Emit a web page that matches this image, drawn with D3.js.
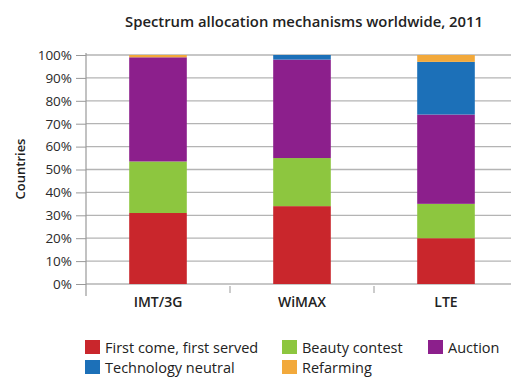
<!DOCTYPE html>
<html><head><meta charset="utf-8">
<script src="https://cdn.jsdelivr.net/npm/d3@7"></script>
<style>
html,body{margin:0;padding:0;background:#fff;}
svg{display:block;font-family:"Open Sans",sans-serif;}
</style></head>
<body>
<svg id="chart" width="511" height="378"></svg>
<script>
// Technologies on the x axis
const categories = ["IMT/3G", "WiMAX", "LTE"];
// Allocation mechanisms (stack order, bottom to top)
const mechanisms = ["First come, first served", "Beauty contest", "Auction", "Technology neutral", "Refarming"];
// Share of countries (%) per mechanism, one value per technology
const firstCome   = [31, 34, 20];
const beauty      = [22.5, 21, 15];
const auction     = [45.5, 43, 39];
const techNeutral = [0, 2, 23];
const refarming   = [1, 0, 3];
const yTicks = [0,10,20,30,40,50,60,70,80,90,100];
const colors = ["#c9262c", "#8dc63f", "#8c1f8c", "#1c70b8", "#f2a93b"];

const seriesValues = [firstCome, beauty, auction, techNeutral, refarming];
const rows = categories.map((c, i) => {
  const r = {cat: c};
  mechanisms.forEach((m, k) => r[m] = seriesValues[k][i]);
  return r;
});

const svg = d3.select("#chart");
const plotLeft = 86, plotTop = 55, plotBottom = 284, plotRight = 518;

const x = d3.scaleBand().domain(categories).range([plotLeft, plotRight]).paddingInner(0.6).paddingOuter(0.3);
const y = d3.scaleLinear().domain([0, 100]).range([plotBottom, plotTop]);

// Title
svg.append("text").attr("x", 304).attr("y", 27).attr("text-anchor", "middle")
  .attr("font-size", 14).attr("font-weight", 600).attr("fill", "#222")
  .attr("textLength", 358).attr("lengthAdjust", "spacingAndGlyphs")
  .text("Spectrum allocation mechanisms worldwide, 2011");

// Horizontal gridlines
svg.append("g").selectAll("line").data(yTicks).join("line")
  .attr("x1", plotLeft).attr("x2", 511)
  .attr("y1", d => y(d)).attr("y2", d => y(d))
  .attr("stroke", "#b4b4b4").attr("stroke-width", 1.3);

// Y axis
const yAxis = d3.axisLeft(y).tickValues(yTicks).tickFormat(d => d + "%").tickSize(10).tickPadding(4);
const gy = svg.append("g").attr("transform", `translate(${plotLeft},0)`).call(yAxis);
gy.select(".domain").remove();
gy.selectAll(".tick line").attr("stroke", "#999");
gy.selectAll("text").attr("font-size", 13.5).attr("fill", "#2a2a2a").attr("font-family", "Open Sans, sans-serif");
svg.append("line").attr("x1", plotLeft).attr("x2", plotLeft).attr("y1", plotTop - 2).attr("y2", plotBottom + 12)
  .attr("stroke", "#999").attr("stroke-width", 1.2);

// Stacked bars
const stack = d3.stack().keys(mechanisms)(rows);
svg.append("g").selectAll("g").data(stack).join("g")
  .attr("fill", (d, i) => colors[i])
  .selectAll("rect").data(d => d).join("rect")
  .attr("x", d => x(d.data.cat))
  .attr("width", x.bandwidth())
  .attr("y", d => y(d[1]))
  .attr("height", d => y(d[0]) - y(d[1]));

// X axis separators and labels
const step = x.step();
svg.append("g").selectAll("line").data(categories.slice(1)).join("line")
  .attr("x1", d => x(d) + x.bandwidth() / 2 - step / 2)
  .attr("x2", d => x(d) + x.bandwidth() / 2 - step / 2)
  .attr("y1", plotBottom + 2).attr("y2", plotBottom + 9)
  .attr("stroke", "#999");
svg.append("g").selectAll("text").data(categories).join("text")
  .attr("x", d => x(d) + x.bandwidth() / 2).attr("y", 307)
  .attr("text-anchor", "middle").attr("font-size", 14).attr("font-weight", 600).attr("fill", "#222")
  .text(d => d);

// Y axis title
svg.append("text").attr("transform", "translate(25,169) rotate(-90)")
  .attr("text-anchor", "middle").attr("font-size", 13).attr("font-weight", 600).attr("fill", "#222")
  .text("Countries");

// Legend (two rows)
const legendPos = [[85, 347], [282, 347], [428, 347], [85, 367], [282, 367]];
const lg = svg.append("g").selectAll("g").data(mechanisms).join("g")
  .attr("transform", (d, i) => `translate(${legendPos[i][0]},${legendPos[i][1]})`);
lg.append("rect").attr("x", 0).attr("y", -7).attr("width", 15).attr("height", 14)
  .attr("fill", (d, i) => colors[i]);
lg.append("text").attr("x", 20).attr("y", 5.5).attr("font-size", 14.5).attr("fill", "#222")
  .text(d => d);
</script>
</body></html>
